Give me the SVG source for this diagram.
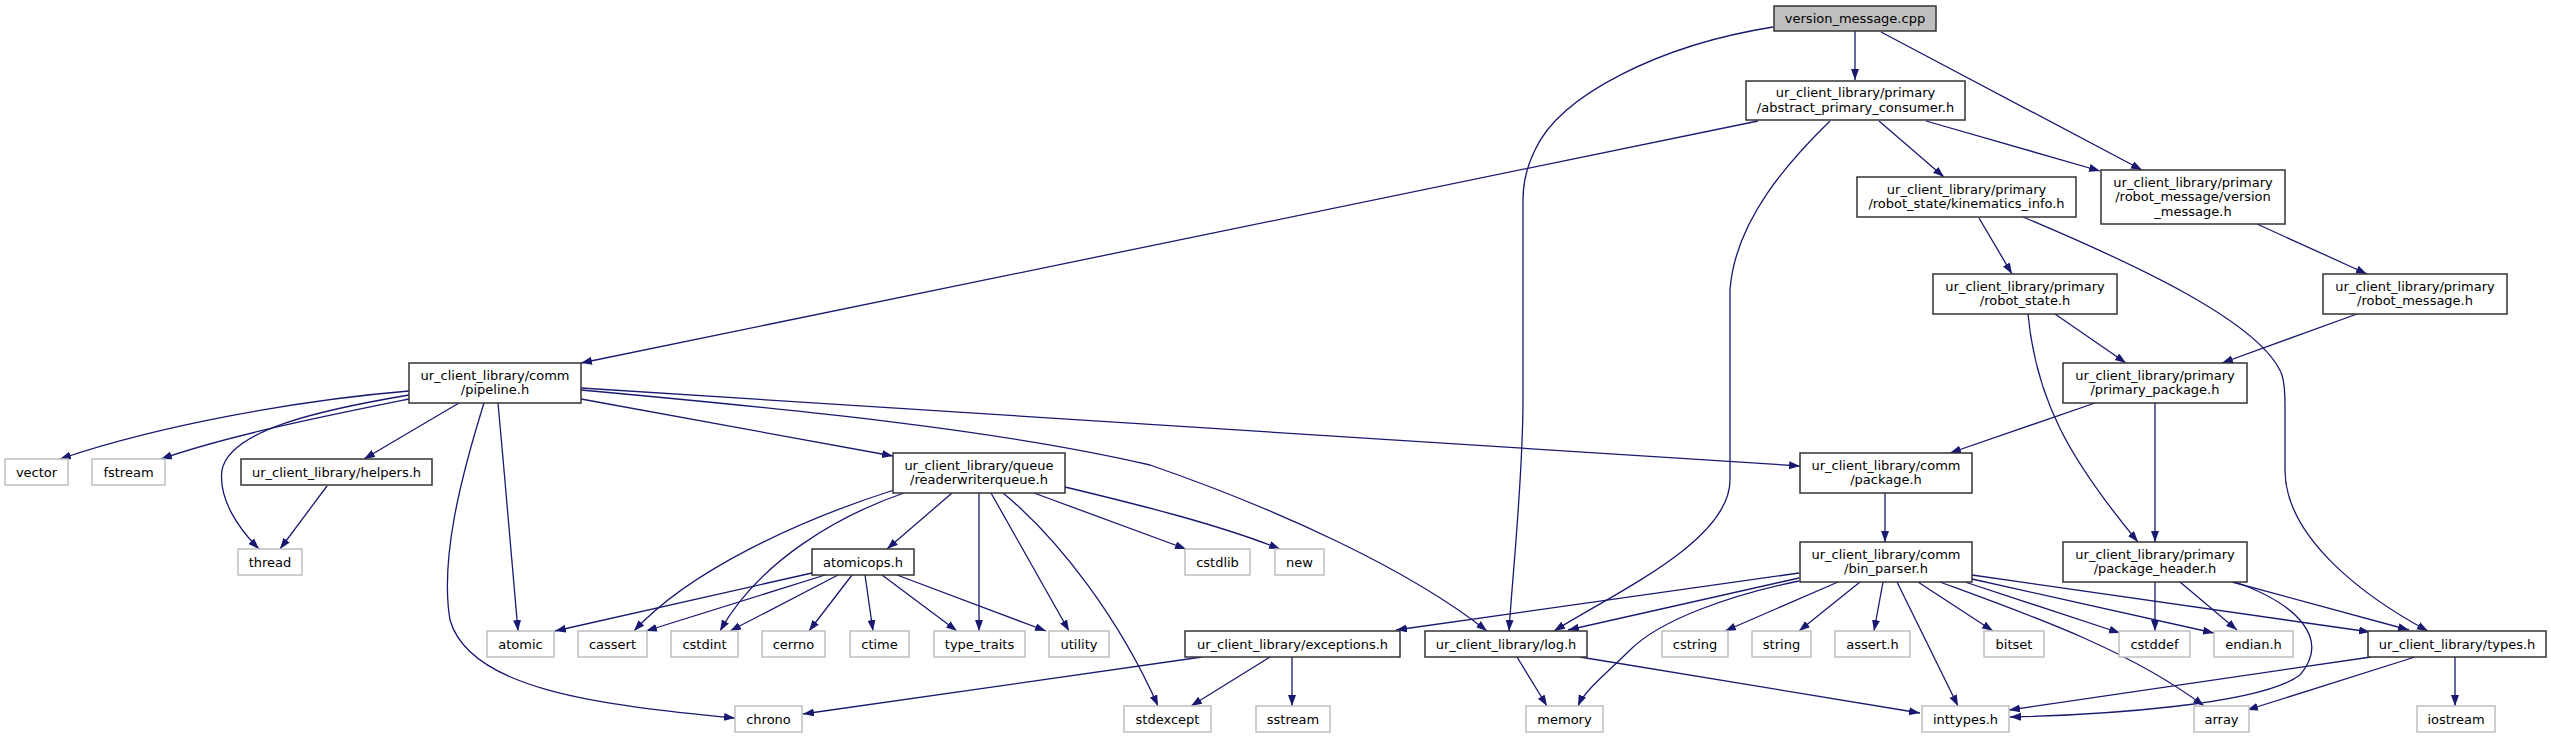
<svg xmlns="http://www.w3.org/2000/svg" width="2551" height="737" viewBox="0 0 2551 737">
<style>
text{font-family:"DejaVu Sans","Liberation Sans",sans-serif;font-size:13px;text-anchor:middle;fill:#000}
.n rect{fill:#fff;stroke:#333;stroke-width:1.5}
.r rect{fill:#bfbfbf;stroke:#333;stroke-width:1.5}
.x rect{fill:#fff;stroke:#bfbfbf;stroke-width:1.5}
#edges path{fill:none;stroke:#191970;stroke-width:1.3;marker-end:url(#a)}
</style>
<defs>
<marker id="a" markerUnits="userSpaceOnUse" markerWidth="12" markerHeight="9" refX="11" refY="4" orient="auto"><path d="M0,0 L11,4 L0,8 z" fill="#191970"/></marker>
</defs>
<rect width="2551" height="737" fill="#fff"/>
<g id="edges">
<path d="M1855,31 L1855,80"/>
<path d="M1881,32 L2142,170"/>
<path d="M1773,27 C1660,45 1560,95 1535,150 C1525,170 1523,185 1523,200 L1523,400 C1523,480 1512,580 1509,631"/>
<path d="M1758,121 L581,363"/>
<path d="M1879,121 L1944,177"/>
<path d="M1926,121 L2100,171"/>
<path d="M1830,121 C1790,160 1735,220 1730,290 L1730,480 C1730,540 1620,590 1554,631"/>
<path d="M1979,218 L2012,274"/>
<path d="M2023,217 C2130,262 2262,322 2282,375 C2285,385 2285,395 2285,405 L2285,470 C2285,540 2370,600 2428,631"/>
<path d="M2257,224 L2367,274"/>
<path d="M2055,314 L2126,363"/>
<path d="M2028,314 C2036,400 2070,460 2138,542"/>
<path d="M2357,314 L2222,363"/>
<path d="M2095,403 L1950,453"/>
<path d="M2155,403 L2155,542"/>
<path d="M1885,493 L1885,542"/>
<path d="M409,391 C300,400 160,425 60,459"/>
<path d="M409,399 C330,415 230,435 161,459"/>
<path d="M409,395 C320,410 230,430 222,470 C218,500 240,530 259,549"/>
<path d="M459,403 L364,459"/>
<path d="M327,486 L280,549"/>
<path d="M484,403 C460,480 440,560 450,620 C470,690 600,705 735,718"/>
<path d="M498,403 C505,480 512,560 518,631"/>
<path d="M581,399 L893,456"/>
<path d="M581,388 L1800,466"/>
<path d="M581,390 C800,410 1000,430 1150,465 C1280,510 1410,570 1487,631"/>
<path d="M894,490 C800,520 690,570 634,631"/>
<path d="M904,493 C840,515 760,560 720,631"/>
<path d="M952,493 L887,549"/>
<path d="M979,493 L979,631"/>
<path d="M991,493 L1069,631"/>
<path d="M1003,493 C1060,540 1120,620 1158,706"/>
<path d="M1034,493 L1186,549"/>
<path d="M1065,487 C1140,505 1220,525 1280,549"/>
<path d="M812,573 L555,631"/>
<path d="M825,575 L646,631"/>
<path d="M838,575 L730,631"/>
<path d="M852,575 L809,631"/>
<path d="M865,575 L873,631"/>
<path d="M882,575 L957,631"/>
<path d="M897,575 L1046,631"/>
<path d="M1202,657 L803,714"/>
<path d="M1270,657 L1191,706"/>
<path d="M1292,657 L1292,706"/>
<path d="M1517,657 L1547,706"/>
<path d="M1580,657 L1920,713"/>
<path d="M1799,573 L1396,630"/>
<path d="M1799,578 L1568,630"/>
<path d="M1799,581 C1730,595 1660,620 1630,650 C1605,675 1585,690 1578,706"/>
<path d="M1838,582 L1725,631"/>
<path d="M1860,582 L1799,631"/>
<path d="M1883,582 L1874,631"/>
<path d="M1897,582 L1958,706"/>
<path d="M1918,582 L1993,631"/>
<path d="M1940,582 C2030,615 2130,650 2204,706"/>
<path d="M1965,582 L2120,633"/>
<path d="M1972,579 L2214,633"/>
<path d="M1972,575 L2370,632"/>
<path d="M2155,582 L2155,631"/>
<path d="M2180,582 L2237,630"/>
<path d="M2232,582 L2409,630"/>
<path d="M2235,582 C2300,605 2330,640 2300,675 C2260,705 2100,715 2010,717"/>
<path d="M2371,657 L2009,710"/>
<path d="M2415,657 L2247,710"/>
<path d="M2455,657 L2455,706"/>
</g>
<g id="version_message_cpp" class="r"><rect x="1774" y="6" width="162" height="25"/><text x="1855" y="23">version_message.cpp</text></g>
<g id="abstract_primary_consumer" class="n"><rect x="1746" y="81" width="219" height="39"/><text x="1855.5" y="97">ur_client_library/primary</text><text x="1855.5" y="111.5">/abstract_primary_consumer.h</text></g>
<g id="kinematics_info" class="n"><rect x="1857" y="177" width="219" height="40"/><text x="1966.5" y="193.5">ur_client_library/primary</text><text x="1966.5" y="208">/robot_state/kinematics_info.h</text></g>
<g id="version_message_h" class="n"><rect x="2101" y="170" width="184" height="54"/><text x="2193" y="186.5">ur_client_library/primary</text><text x="2193" y="201">/robot_message/version</text><text x="2193" y="215.5">_message.h</text></g>
<g id="robot_state" class="n"><rect x="1933" y="274" width="184" height="40"/><text x="2025" y="290.5">ur_client_library/primary</text><text x="2025" y="305">/robot_state.h</text></g>
<g id="robot_message" class="n"><rect x="2323" y="274" width="184" height="40"/><text x="2415" y="290.5">ur_client_library/primary</text><text x="2415" y="305">/robot_message.h</text></g>
<g id="primary_package" class="n"><rect x="2063" y="363" width="184" height="40"/><text x="2155" y="379.5">ur_client_library/primary</text><text x="2155" y="394">/primary_package.h</text></g>
<g id="package" class="n"><rect x="1800" y="453" width="172" height="40"/><text x="1886" y="469.5">ur_client_library/comm</text><text x="1886" y="484">/package.h</text></g>
<g id="bin_parser" class="n"><rect x="1800" y="542" width="172" height="40"/><text x="1886" y="558.5">ur_client_library/comm</text><text x="1886" y="573">/bin_parser.h</text></g>
<g id="package_header" class="n"><rect x="2063" y="542" width="184" height="40"/><text x="2155" y="558.5">ur_client_library/primary</text><text x="2155" y="573">/package_header.h</text></g>
<g id="pipeline" class="n"><rect x="409" y="363" width="172" height="40"/><text x="495" y="379.5">ur_client_library/comm</text><text x="495" y="394">/pipeline.h</text></g>
<g id="readerwriterqueue" class="n"><rect x="893" y="453" width="172" height="40"/><text x="979" y="469.5">ur_client_library/queue</text><text x="979" y="484">/readerwriterqueue.h</text></g>
<g id="helpers" class="n"><rect x="241" y="459" width="191" height="26"/><text x="336.5" y="476.5">ur_client_library/helpers.h</text></g>
<g id="atomicops" class="n"><rect x="812" y="549" width="102" height="26"/><text x="863" y="566.5">atomicops.h</text></g>
<g id="exceptions" class="n"><rect x="1185" y="631" width="215" height="26"/><text x="1292.5" y="648.5">ur_client_library/exceptions.h</text></g>
<g id="log" class="n"><rect x="1425" y="631" width="162" height="26"/><text x="1506" y="648.5">ur_client_library/log.h</text></g>
<g id="types" class="n"><rect x="2368" y="631" width="178" height="26"/><text x="2457" y="648.5">ur_client_library/types.h</text></g>
<g id="vector" class="x"><rect x="5" y="459" width="63" height="26"/><text x="36.5" y="476.5">vector</text></g>
<g id="fstream" class="x"><rect x="92" y="459" width="73" height="26"/><text x="128.5" y="476.5">fstream</text></g>
<g id="thread" class="x"><rect x="238" y="549" width="64" height="26"/><text x="270" y="566.5">thread</text></g>
<g id="cstdlib" class="x"><rect x="1185" y="549" width="65" height="26"/><text x="1217.5" y="566.5">cstdlib</text></g>
<g id="new" class="x"><rect x="1275" y="549" width="49" height="26"/><text x="1299.5" y="566.5">new</text></g>
<g id="atomic" class="x"><rect x="487" y="631" width="67" height="26"/><text x="520.5" y="648.5">atomic</text></g>
<g id="cassert" class="x"><rect x="578" y="631" width="69" height="26"/><text x="612.5" y="648.5">cassert</text></g>
<g id="cstdint" class="x"><rect x="671" y="631" width="67" height="26"/><text x="704.5" y="648.5">cstdint</text></g>
<g id="cerrno" class="x"><rect x="762" y="631" width="63" height="26"/><text x="793.5" y="648.5">cerrno</text></g>
<g id="ctime" class="x"><rect x="850" y="631" width="59" height="26"/><text x="879.5" y="648.5">ctime</text></g>
<g id="type_traits" class="x"><rect x="934" y="631" width="91" height="26"/><text x="979.5" y="648.5">type_traits</text></g>
<g id="utility" class="x"><rect x="1049" y="631" width="60" height="26"/><text x="1079" y="648.5">utility</text></g>
<g id="cstring" class="x"><rect x="1662" y="631" width="66" height="26"/><text x="1695" y="648.5">cstring</text></g>
<g id="string" class="x"><rect x="1752" y="631" width="59" height="26"/><text x="1781.5" y="648.5">string</text></g>
<g id="assert_h" class="x"><rect x="1835" y="631" width="75" height="26"/><text x="1872.5" y="648.5">assert.h</text></g>
<g id="bitset" class="x"><rect x="1984" y="631" width="60" height="26"/><text x="2014" y="648.5">bitset</text></g>
<g id="cstddef" class="x"><rect x="2119" y="631" width="71" height="26"/><text x="2154.5" y="648.5">cstddef</text></g>
<g id="endian_h" class="x"><rect x="2214" y="631" width="79" height="26"/><text x="2253.5" y="648.5">endian.h</text></g>
<g id="chrono" class="x"><rect x="735" y="706" width="67" height="26"/><text x="768.5" y="723.5">chrono</text></g>
<g id="stdexcept" class="x"><rect x="1124" y="706" width="87" height="26"/><text x="1167.5" y="723.5">stdexcept</text></g>
<g id="sstream" class="x"><rect x="1256" y="706" width="74" height="26"/><text x="1293" y="723.5">sstream</text></g>
<g id="memory" class="x"><rect x="1526" y="706" width="77" height="26"/><text x="1564.5" y="723.5">memory</text></g>
<g id="inttypes_h" class="x"><rect x="1922" y="706" width="87" height="26"/><text x="1965.5" y="723.5">inttypes.h</text></g>
<g id="array" class="x"><rect x="2194" y="706" width="55" height="26"/><text x="2221.5" y="723.5">array</text></g>
<g id="iostream" class="x"><rect x="2417" y="706" width="78" height="26"/><text x="2456" y="723.5">iostream</text></g>
</svg>
